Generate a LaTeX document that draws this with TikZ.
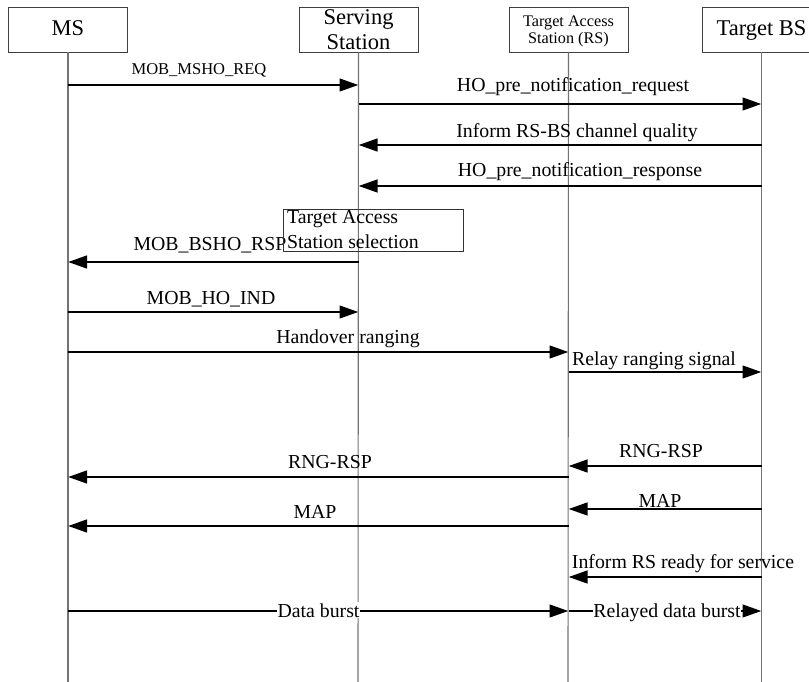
\documentclass[tikz,border=0pt]{standalone}
\usepackage{fontspec}
\setmainfont{Liberation Serif}
\usetikzlibrary{arrows.meta}

\begin{document}
\begin{tikzpicture}[x=1pt,y=-1pt,
  headbox/.style={draw=black!75, line width=0.9pt, fill=white,
    minimum width=119pt, minimum height=45pt, inner sep=0pt},
  headtext/.style={inner sep=0pt, align=center},
  life/.style={draw=black!55, line width=1.1pt},
  msg/.style={line width=2.8pt, -{Triangle[length=19pt,width=12.5pt]}},
  lbl/.style={inner sep=0pt, anchor=base, font=\fontsize{19.8}{22}\selectfont},
  onlbl/.style={lbl, fill=white, inner xsep=0.6pt, inner ysep=1pt},
  selbox/.style={draw=black!80, line width=0.9pt, minimum width=180pt,
    minimum height=42pt, inner sep=0pt}]

\useasboundingbox (0,0) rectangle (809,682);

% participant boxes
\node[headbox] (ms) at (68,29.5) {};
\node[headbox] (ss) at (358.5,29.5) {};
\node[headbox] (rs) at (568.5,29.5) {};
\node[headbox] (bs) at (761.5,29.5) {};

% lifelines
\coordinate (msEnd) at (68,682);
\coordinate (ssEnd) at (358,682);
\coordinate (rsEnd) at (568,682);
\coordinate (bsEnd) at (761.5,682);
\draw[life] (ms.south) -- (msEnd);
\draw[life] (ss.south) -- (ssEnd);
\draw[life] (rs.south) -- (rsEnd);
\draw[life] (bs.south) -- (bsEnd);

% participant names
\node[headtext, anchor=base, font=\fontsize{22.5}{25}\selectfont] (msT) at (68,36) {MS};
\node[headtext, font=\fontsize{22.5}{25}\selectfont] (ssT) at (358.5,29.8) {Serving\\Station};
\node[headtext, font=\fontsize{16.2}{16.5}\selectfont] (rsT) at (568.5,31.2) {Target Access\\Station (RS)};
\node[headtext, anchor=base, font=\fontsize{22.5}{25}\selectfont] (bsT) at (761.5,36) {Target BS};

% messages
\draw[msg] (ms |- 0,85) -- (ss |- 0,85);
\node[lbl, font=\fontsize{16.5}{18}\selectfont] (l1) at (199,75) {MOB\_MSHO\_REQ};

\draw[msg] (ss |- 0,104) -- (bs |- 0,104);
\node[lbl] (l2) at (573,92) {HO\_pre\_notification\_request};

\draw[msg] (bs |- 0,145) -- (ss |- 0,145);
\node[lbl] (l3) at (577,138) {Inform RS-BS channel quality};

\draw[msg] (bs |- 0,186) -- (ss |- 0,186);
\node[lbl] (l4) at (580,177) {HO\_pre\_notification\_response};

\draw[msg] (ss |- 0,262) -- (ms |- 0,262);
\node[lbl] (l5) at (210,251) {MOB\_BSHO\_RSP};

% local decision at the serving station
\node[selbox] (sel) at (373,230) {};
\node[inner sep=0pt, anchor=north west, align=left,
  font=\fontsize{19.8}{25}\selectfont] (selT) at (287,210)
  {Target Access\\Station selection};

\draw[msg] (ms |- 0,312) -- (ss |- 0,312);
\node[lbl] (l6) at (211,304) {MOB\_HO\_IND};

\draw[msg] (ms |- 0,352) -- (rs |- 0,352);
\node[lbl] (l7) at (348,343) {Handover ranging};

\draw[msg] (rs |- 0,372) -- (bs |- 0,372);
\node[lbl] (l8) at (654,365) {Relay ranging signal};

\draw[msg] (bs |- 0,466) -- (rs |- 0,466);
\node[lbl] (l9) at (661,457) {RNG-RSP};

\draw[msg] (rs |- 0,477) -- (ms |- 0,477);
\node[lbl] (l10) at (330,468) {RNG-RSP};

\draw[msg] (bs |- 0,509) -- (rs |- 0,509);
\node[lbl] (l11) at (660,507) {MAP};

\draw[msg] (rs |- 0,526) -- (ms |- 0,526);
\node[lbl] (l12) at (315,518) {MAP};

\draw[msg] (bs |- 0,577) -- (rs |- 0,577);
\node[lbl] (l13) at (683,568) {Inform RS ready for service};

\draw[msg] (ms |- 0,611) -- (rs |- 0,611);
\node[onlbl] (l14) at (318.5,617) {Data burst};

\draw[msg] (rs |- 0,611) -- (bs |- 0,611);
\node[onlbl] (l15) at (667,617) {Relayed data burst};

\end{tikzpicture}
\end{document}
